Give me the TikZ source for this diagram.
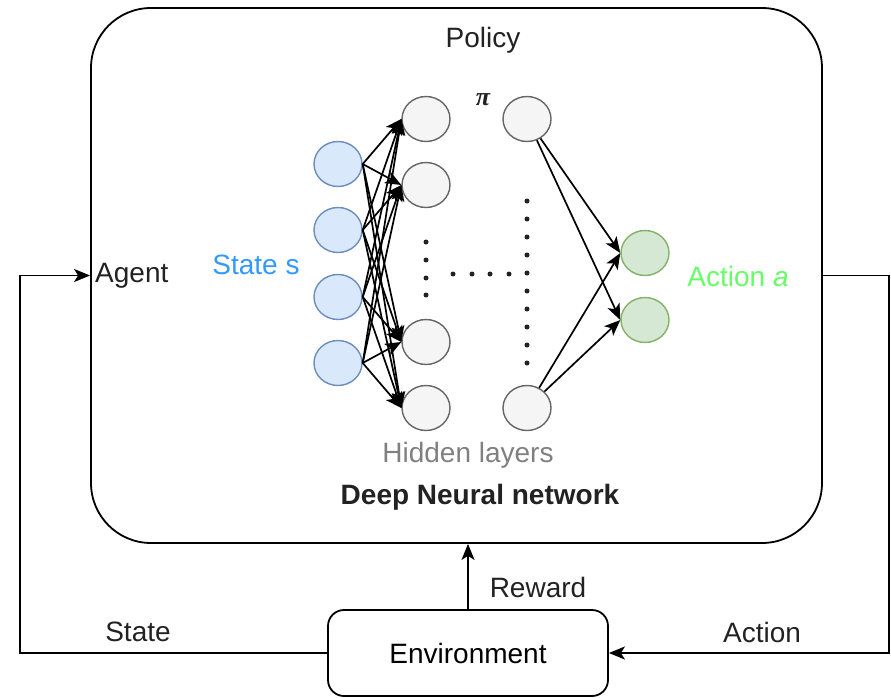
\documentclass[tikz,border=0pt]{standalone}
\usepackage{fontspec}
\setmainfont{Liberation Sans}
\newfontfamily\pifont{Liberation Serif}
\usetikzlibrary{arrows.meta,shapes.geometric}
\definecolor{infill}{HTML}{DAE8FC}
\definecolor{inedge}{HTML}{6C8EBF}
\definecolor{hidfill}{HTML}{F5F5F5}
\definecolor{hidedge}{HTML}{666666}
\definecolor{outfill}{HTML}{D5E8D4}
\definecolor{outedge}{HTML}{82B366}
\definecolor{stateblue}{HTML}{3399FF}
\definecolor{actgreen}{HTML}{66FF66}
\definecolor{txtgray}{HTML}{222222}
\definecolor{hidtxt}{HTML}{808080}
\begin{document}
\begin{tikzpicture}[x=1pt,y=-1pt,
  font=\fontsize{28}{32}\selectfont,
  neuron/.style={ellipse, line width=1.4pt, minimum width=48pt, minimum height=45pt, inner sep=0pt},
  neuronin/.style={neuron, draw=inedge, fill=infill},
  neuronhid/.style={neuron, draw=hidedge, fill=hidfill},
  neuronout/.style={neuron, draw=outedge, fill=outfill},
  nnarrow/.style={-{Stealth[length=16pt,width=13pt,inset=4pt]}, line width=1.7pt},
  looparrow/.style={-{Stealth[length=16pt,width=13pt,inset=4pt]}, line width=1.8pt},
  lbl/.style={text=txtgray, inner sep=0pt},
  dotmark/.style={circle, fill=txtgray, inner sep=0pt, minimum size=5pt}
]
\useasboundingbox (0,0) rectangle (891,698);

% boxes
\node[draw, line width=1.8pt, rounded corners=60pt, minimum width=731pt, minimum height=535pt] (agent) at (456.5,275.5) {};
\node[draw, line width=1.8pt, rounded corners=16pt, minimum width=280pt, minimum height=86pt] (env) at (468,653) {Environment};

% neurons
\node[neuronin] (i1) at (338,164) {};
\node[neuronin] (i2) at (338,230) {};
\node[neuronin] (i3) at (338,297) {};
\node[neuronin] (i4) at (338,363) {};
\node[neuronhid] (h1) at (426,119) {};
\node[neuronhid] (h2) at (426,185) {};
\node[neuronhid] (h3) at (426,342) {};
\node[neuronhid] (h4) at (426,408) {};
\node[neuronhid] (p1) at (527,119) {};
\node[neuronhid] (p2) at (527,408) {};
\node[neuronout] (o1) at (645,253) {};
\node[neuronout] (o2) at (645,320) {};

% connections
\foreach \i in {1,...,4}
  \foreach \j in {1,...,4}
    \draw[nnarrow] (i\i.east) -- (h\j.west);
\foreach \p in {p1,p2}
  \foreach \o in {o1,o2}
    \draw[nnarrow] (\p) -- (\o.west);

% dots
\foreach \k [count=\n] in {242,260,278,295}
  \node[dotmark] (da\n) at (426,\k) {};
\foreach \k [count=\n] in {453,472,490,509}
  \node[dotmark] (db\n) at (\k,274) {};
\foreach \k [count=\n] in {201,219,237,255,273,291,309,327,345,363}
  \node[dotmark] (dc\n) at (527,\k) {};

% labels
\node[lbl] (policy) at (483,40) {Policy};
\node[lbl] (pi) at (483,100) {\pifont\bfseries\itshape\fontsize{26}{28}\selectfont π};
\node[lbl, anchor=west] (agentlbl) at (95,276) {Agent};
\node[lbl, text=stateblue] (statelbl) at (256,265) {State s};
\node[lbl, text=actgreen] (actlbl) at (738,276) {Action \textit{a}};
\node[lbl, text=hidtxt] (hidlbl) at (468,455) {Hidden layers};
\node[lbl, font=\fontsize{28}{32}\selectfont\bfseries] (dnn) at (480,497) {Deep Neural network};
\node[lbl] (rewardlbl) at (538,587) {Reward};
\node[lbl] (statel) at (138,632) {State};
\node[lbl] (actionl) at (762,632) {Action};

% loop connectors
\coordinate (lb) at (20,653);
\coordinate (lt) at (20,275.5);
\coordinate (rt) at (889,275.5);
\coordinate (rb) at (889,653);
\draw[looparrow] (env.west) -- (lb) -- (lt) -- (agent.west);
\draw[looparrow] (agent.east) -- (rt) -- (rb) -- (env.east);
\draw[looparrow] (env.north) -- (env.north |- agent.south);
\end{tikzpicture}
\end{document}
